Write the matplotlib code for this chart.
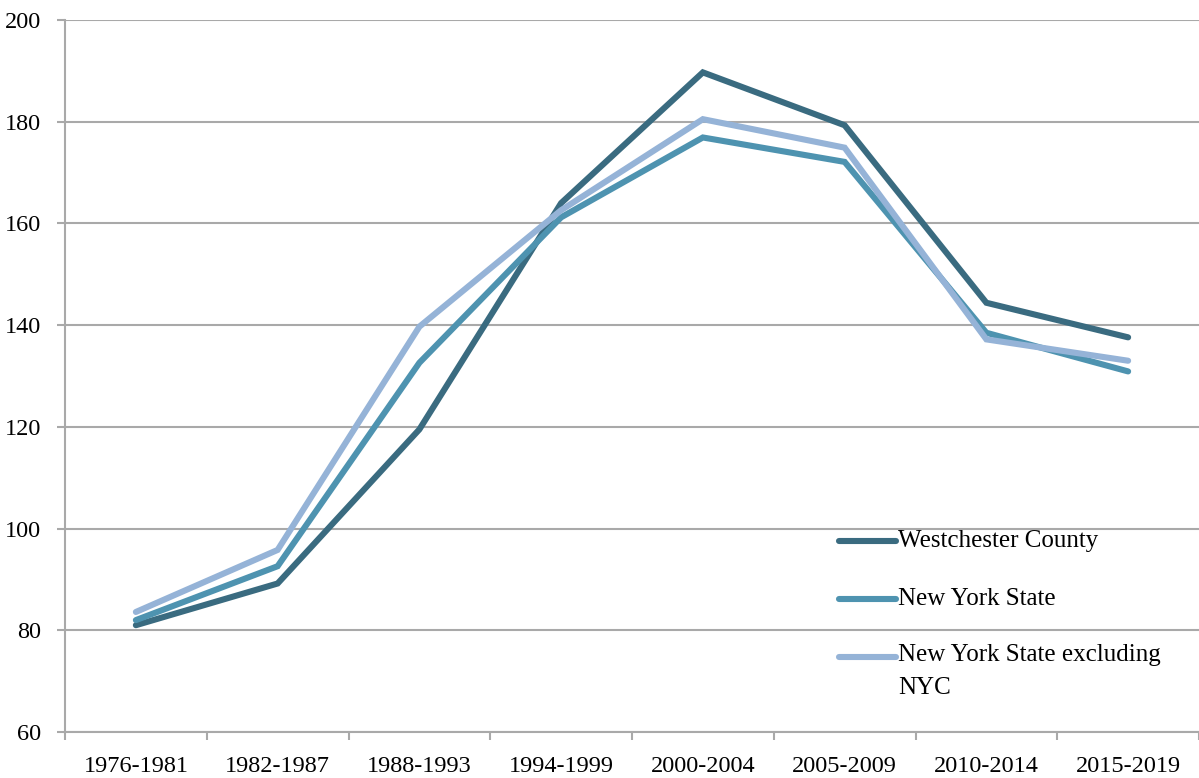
import matplotlib.pyplot as plt
import numpy as np
from matplotlib.ticker import FixedLocator

periods = ["1976-1981", "1982-1987", "1988-1993", "1994-1999",
           "2000-2004", "2005-2009", "2010-2014", "2015-2019"]
westchester = [81.0, 89.2, 119.5, 164.0, 189.7, 179.3, 144.4, 137.6]
nys = [82.0, 92.6, 132.6, 161.2, 176.9, 172.1, 138.5, 130.9]
nys_excl_nyc = [83.6, 95.8, 139.7, 162.6, 180.5, 174.9, 137.2, 133.0]

names = ["Westchester County", "New York State", "New York State excluding\nNYC"]
colors = ["#3a6b80", "#4e93b0", "#95b3d7"]
grid_col = "#a9a9a9"

plt.rcParams['font.family'] = ['Liberation Serif', 'DejaVu Serif']

fig = plt.figure(figsize=(11.99, 7.78), dpi=100)
ax = fig.add_axes([65/1199, 46/778, 1 - 65/1199, 712/778])

x = np.arange(len(periods))
series = [westchester, nys, nys_excl_nyc]
for vals, c in zip(series, colors):
    ax.plot(x, vals, color=c, lw=4.4, solid_capstyle='round', solid_joinstyle='miter', zorder=3)

ax.set_xlim(-0.5, len(periods) - 0.5)
ax.set_ylim(60, 200)
ax.set_yticks(np.arange(60, 201, 20))
ax.yaxis.grid(True, color=grid_col, lw=1.5)
ax.set_axisbelow(True)

ax.set_xticks(x)
ax.set_xticklabels(periods)
ax.xaxis.set_minor_locator(FixedLocator(np.arange(-0.5, len(periods), 1.0)))
ax.tick_params(axis='x', which='major', length=0, pad=17, labelsize=17.5)
ax.tick_params(axis='x', which='minor', length=6, width=1.5, color=grid_col, direction='out')
ax.tick_params(axis='y', length=6, width=1.5, color=grid_col, pad=11, labelsize=17.5)

for s in ['top', 'right']:
    ax.spines[s].set_visible(False)
for s in ['left', 'bottom']:
    ax.spines[s].set_color(grid_col)
    ax.spines[s].set_linewidth(1.5)

# legend drawn by hand so the handle sits on the first line of the wrapped label
leg_y = [0.268, 0.187, 0.105]
for name, c, yy in zip(names, colors, leg_y):
    ax.plot([0.6825, 0.7325], [yy, yy], transform=ax.transAxes, color=c, lw=4.4,
            solid_capstyle='round', clip_on=False, zorder=4)
    if '\n' in name:
        ax.text(0.735, yy + 0.019, name, transform=ax.transAxes, fontsize=18,
                va='top', ha='left', linespacing=1.65)
    else:
        ax.text(0.735, yy, name, transform=ax.transAxes, fontsize=18,
                va='center', ha='left')

fig.savefig("out.png", dpi=100)
